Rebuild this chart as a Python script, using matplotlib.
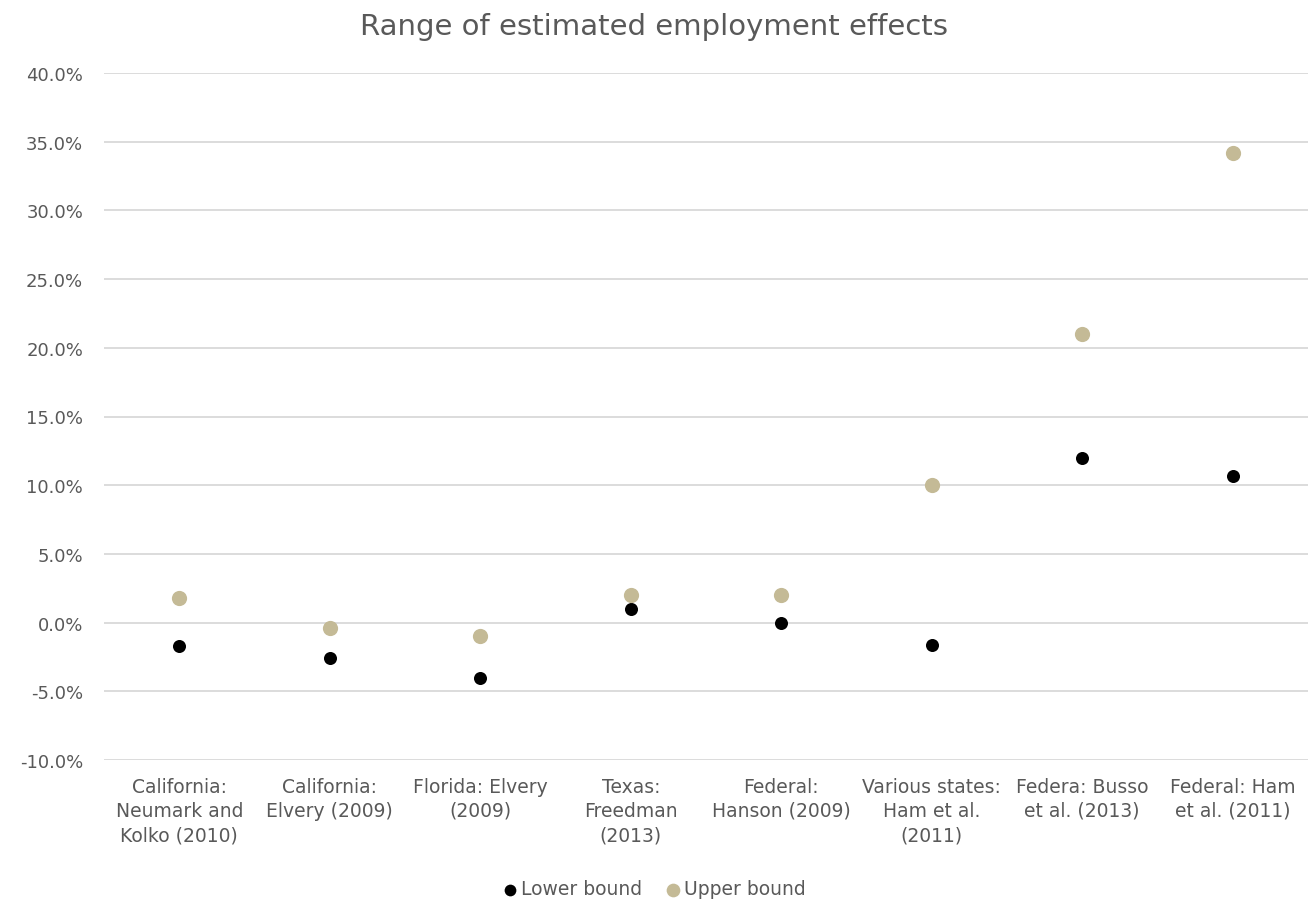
import numpy as np
import matplotlib
matplotlib.use('Agg')
import matplotlib.pyplot as plt
from matplotlib.ticker import FuncFormatter

# data (percent)
studies = ['California:\nNeumark and\nKolko (2010)', 'California:\nElvery (2009)',
           'Florida: Elvery\n(2009)', 'Texas:\nFreedman\n(2013)', 'Federal:\nHanson (2009)',
           'Various states:\nHam et al.\n(2011)', 'Federa: Busso\net al. (2013)',
           'Federal: Ham\net al. (2011)']
lower_bound = [-1.7, -2.6, -4.0, 1.0, 0.0, -1.6, 12.0, 10.7]
upper_bound = [1.8, -0.4, -1.0, 2.0, 2.0, 10.0, 21.0, 34.2]

txt = '#595959'
plt.rcParams['font.family'] = ['DejaVu Sans']

fig = plt.figure(figsize=(13.09, 9.03), dpi=100)
ax = fig.add_axes([104/1309, 1 - 761/903, (1308-104)/1309, (761-74)/903])

x = np.arange(len(studies))
ax.scatter(x, lower_bound, s=88, color='black', zorder=3, label='Lower bound', linewidths=0)
ax.scatter(x, upper_bound, s=120, color='#C4BA96', zorder=3, label='Upper bound', linewidths=0)

ax.set_xlim(-0.5, len(studies) - 0.5)
ax.set_ylim(-10, 40)
ax.set_yticks(np.arange(-10, 41, 5))
ax.yaxis.set_major_formatter(FuncFormatter(lambda v, p: f'{v:.1f}%'))
ax.set_xticks(x)
ax.set_xticklabels(studies, fontsize=13.5, color=txt, linespacing=1.35)
ax.tick_params(axis='y', labelsize=13, labelcolor=txt, length=0, pad=15)
ax.tick_params(axis='x', length=0, pad=12)
ax.grid(axis='y', color='#D9D9D9', linewidth=1.3)
ax.set_axisbelow(True)
for s in ax.spines.values():
    s.set_visible(False)

fig.text(0.5, 1 - 27/903, 'Range of estimated employment effects', ha='center', va='center',
         fontsize=21, color=txt)

leg = fig.legend(loc='center', bbox_to_anchor=(0.5, 1 - 890/903), ncol=2, frameon=False,
                 fontsize=13.5, handlelength=0.7, handletextpad=0.25, columnspacing=1.3,
                 markerscale=0.9)
for t in leg.get_texts():
    t.set_color(txt)

fig.savefig('out.png', dpi=100)
